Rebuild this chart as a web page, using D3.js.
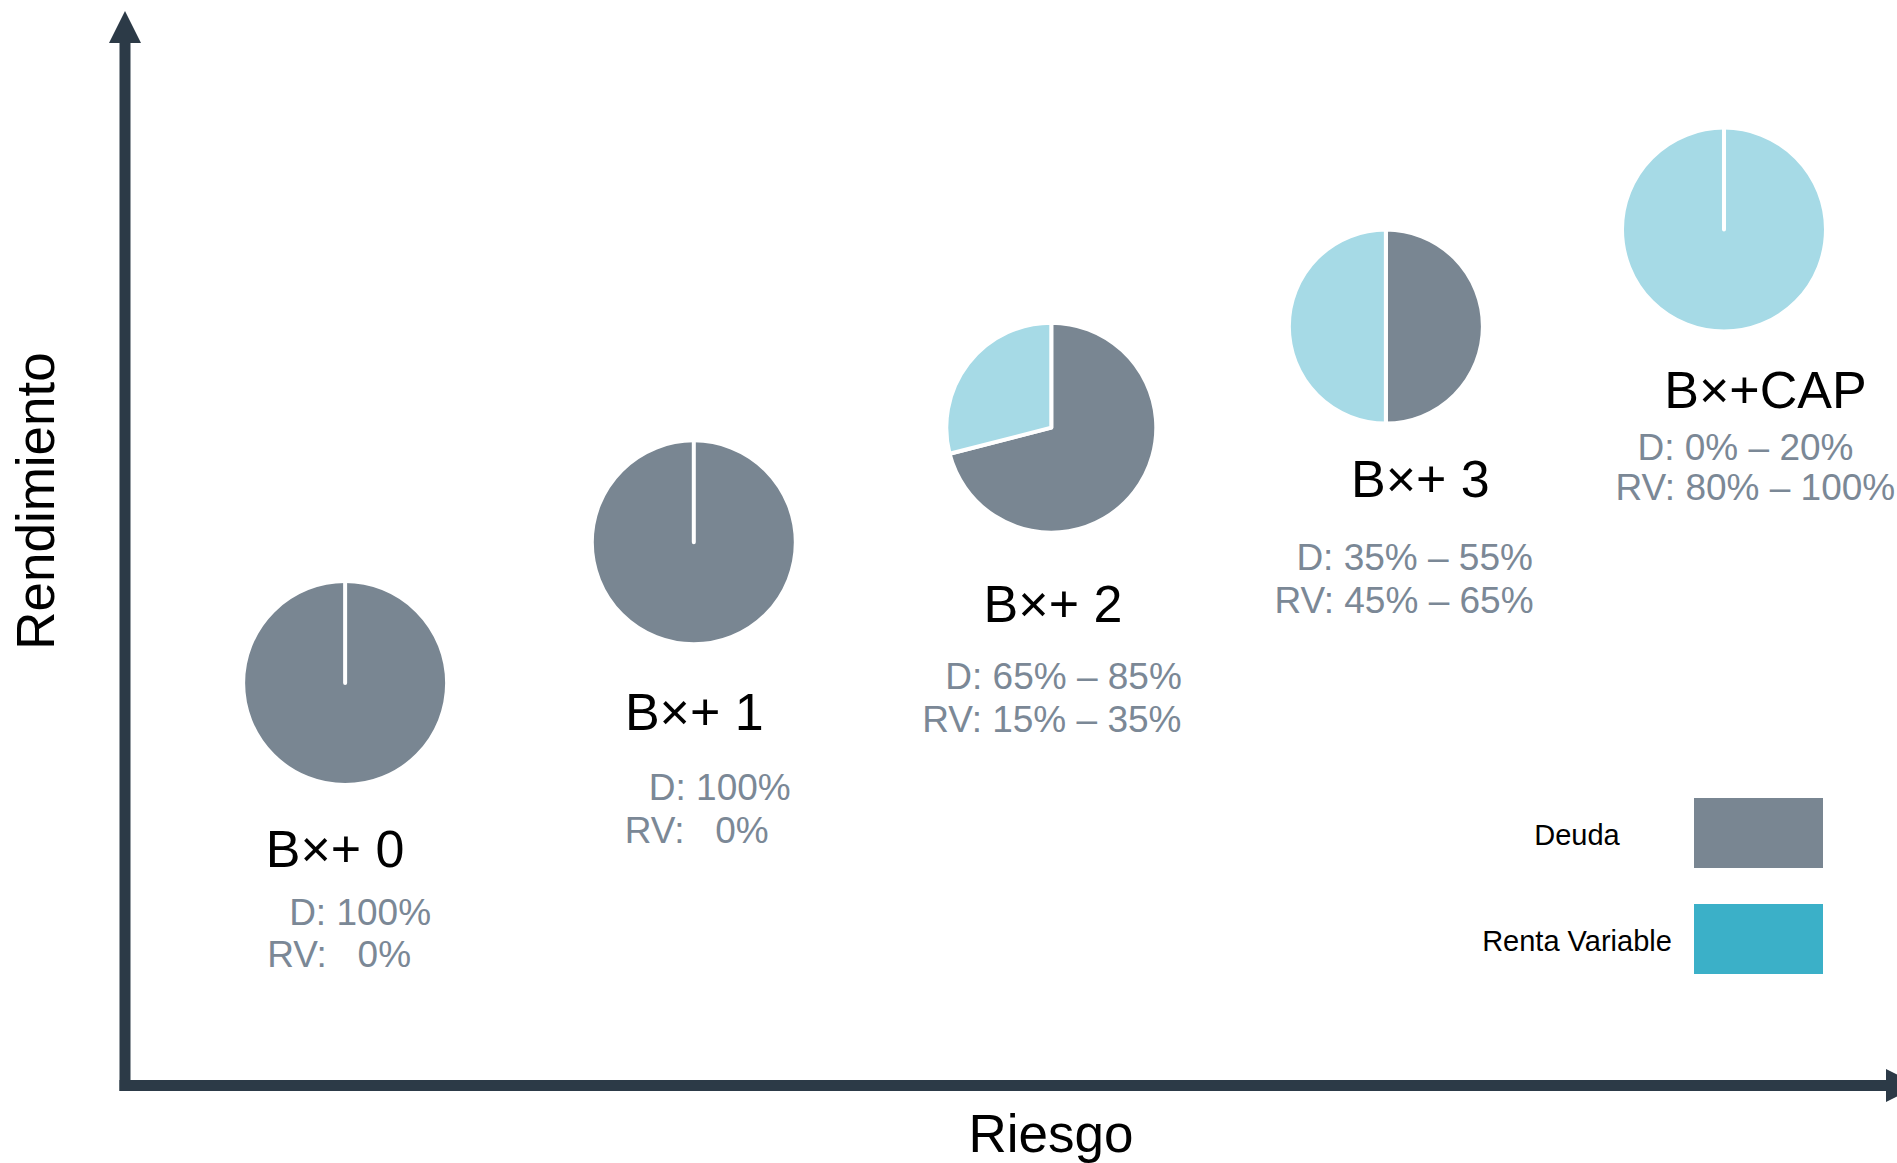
<!DOCTYPE html>
<html>
<head>
<meta charset="utf-8">
<script src="https://cdn.jsdelivr.net/npm/d3@7"></script>
<style>
  html, body { margin: 0; padding: 0; background: #fff; }
  text { font-family: "Liberation Sans", Arial, sans-serif; }
</style>
</head>
<body>
<div id="chart"></div>
<script>
// data
var names = ["B×+ 0", "B×+ 1", "B×+ 2", "B×+ 3", "B×+CAP"];
var deuda = [100, 100, 71, 50, 0];
var rentaVariable = [0, 0, 29, 50, 100];
var deudaRange = ["D: 100%", "D: 100%", "D: 65% – 85%", "D: 35% – 55%", "D: 0% – 20%"];
var rvRange = ["RV:   0%", "RV:   0%", "RV: 15% – 35%", "RV: 45% – 65%", "RV: 80% – 100%"];
var riesgo = [12.5, 32.3, 52.6, 71.6, 90.8];
var rendimiento = [38.6, 52.1, 63.1, 72.8, 82.1];
var legendNames = ["Deuda", "Renta Variable"];

// layout (radius, label offsets from pie centre)
var layout = [
  {r: 100, name: [-10, 183.5], d: [-56, 241.5], rv: [-78, 283.5]},
  {r: 100, name: [0.5, 188], d: [-45, 258], rv: [-69, 301]},
  {r: 103, name: [1.7, 194.5], d: [-106, 261.5], rv: [-129, 304.5]},
  {r: 95, name: [34.5, 170], d: [-89.5, 243], rv: [-111.5, 286]},
  {r: 100, name: [41.5, 178.5], d: [-86.5, 230.5], rv: [-108.5, 270.5]}
];

var width = 1897, height = 1163;
var axisColor = "#2c3a47";
var pieColors = ["#798692", "#a6dae6"];
var legendColors = ["#798692", "#3bb0c8"];

var svg = d3.select("#chart").append("svg")
    .attr("width", width)
    .attr("height", height);

var x = d3.scaleLinear().domain([0, 100]).range([125, 1886]);
var y = d3.scaleLinear().domain([0, 100]).range([1085.5, 43]);

// axes as arrows
svg.append("line")
    .attr("x1", x(0)).attr("y1", y(0) + 5.5)
    .attr("x2", x(0)).attr("y2", y(100))
    .attr("stroke", axisColor).attr("stroke-width", 11);
svg.append("path")
    .attr("d", `M${x(0) - 16},${y(100)}L${x(0)},${y(100) - 32}L${x(0) + 16},${y(100)}Z`)
    .attr("fill", axisColor);

svg.append("line")
    .attr("x1", x(0) - 5.5).attr("y1", y(0))
    .attr("x2", x(100)).attr("y2", y(0))
    .attr("stroke", axisColor).attr("stroke-width", 11);
svg.append("path")
    .attr("d", `M${x(100)},${y(0) - 16.5}L${x(100) + 33},${y(0)}L${x(100)},${y(0) + 16.5}Z`)
    .attr("fill", axisColor);

// axis titles
svg.append("text")
    .attr("transform", "translate(54,501) rotate(-90)")
    .attr("text-anchor", "middle")
    .attr("font-size", 53)
    .attr("fill", "#000")
    .text("Rendimiento");

svg.append("text")
    .attr("x", 1051).attr("y", 1152)
    .attr("text-anchor", "middle")
    .attr("font-size", 53)
    .attr("fill", "#000")
    .text("Riesgo");

// pies
var pie = d3.pie().sort(null);

names.forEach(function(name, i) {
  var L = layout[i];
  var cx = x(riesgo[i]), cy = y(rendimiento[i]);
  var g = svg.append("g").attr("transform", `translate(${cx},${cy})`);
  var arc = d3.arc().innerRadius(0).outerRadius(L.r + 2);

  g.selectAll("path")
    .data(pie([deuda[i], rentaVariable[i]]))
    .enter()
    .append("path")
    .attr("d", arc)
    .attr("fill", (d, j) => pieColors[j])
    .attr("stroke", "#fff")
    .attr("stroke-width", 4)
    .attr("stroke-linejoin", "round")
    .attr("stroke-linecap", "round")
    .filter(d => d.value === 0)
    .raise();

  svg.append("text")
    .attr("x", cx + L.name[0]).attr("y", cy + L.name[1])
    .attr("text-anchor", "middle")
    .attr("font-size", 52)
    .attr("fill", "#000")
    .text(name);

  svg.append("text")
    .attr("x", cx + L.d[0]).attr("y", cy + L.d[1])
    .attr("font-size", 37)
    .attr("fill", "#7b8896")
    .style("white-space", "pre")
    .text(deudaRange[i]);

  svg.append("text")
    .attr("x", cx + L.rv[0]).attr("y", cy + L.rv[1])
    .attr("font-size", 37)
    .attr("fill", "#7b8896")
    .style("white-space", "pre")
    .text(rvRange[i]);
});

// legend
var legend = svg.append("g");
legend.selectAll("rect")
  .data(legendNames)
  .enter()
  .append("rect")
  .attr("x", 1694)
  .attr("y", (d, i) => 798 + i * 106)
  .attr("width", 129)
  .attr("height", 70)
  .attr("fill", (d, i) => legendColors[i]);

legend.selectAll("text")
  .data(legendNames)
  .enter()
  .append("text")
  .attr("x", 1577)
  .attr("y", (d, i) => 845 + i * 106)
  .attr("text-anchor", "middle")
  .attr("font-size", 29)
  .attr("fill", "#000")
  .text(d => d);
</script>
</body>
</html>
